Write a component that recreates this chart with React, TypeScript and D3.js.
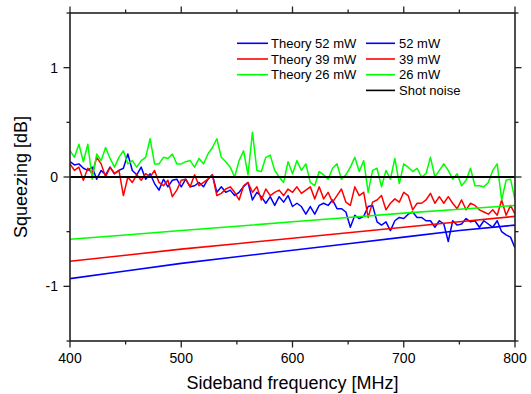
import React from "react";
import * as d3 from "d3";

// sideband frequency grid of the measured traces [MHz]
const freq = d3.range(400, 801, 4);

// measured squeezing [dB], one value per freq point
const meas52 = [
  0.14, 0.11, 0.12, 0.08, 0.06, 0.09, -0.02, 0.06, 0.02, 0.09, 0.03, 0.06, 0.08, 0.21, 0.06, 0.02, 0.09, -0.02, 0.03, -0.06, -0.12, -0.02, -0.09, -0.03, -0.02, -0.09,
  -0.02, -0.09, -0.08, -0.05, -0.09, -0.02, 0.02, -0.14, -0.09, -0.14, -0.12, -0.17, -0.14, -0.09, -0.05, -0.21, -0.14, -0.18, -0.24, -0.18, -0.26, -0.18, -0.23, -0.17, -0.27,
  -0.24, -0.27, -0.34, -0.27, -0.34, -0.26, -0.24, -0.26, -0.21, -0.29, -0.29, -0.32, -0.46, -0.35, -0.38, -0.36, -0.27, -0.26, -0.41, -0.44, -0.41, -0.49, -0.4, -0.37, -0.38,
  -0.34, -0.32, -0.37, -0.37, -0.4, -0.4, -0.46, -0.4, -0.43, -0.59, -0.4, -0.44, -0.43, -0.38, -0.41, -0.4, -0.46, -0.4, -0.43, -0.46, -0.4, -0.5, -0.53, -0.55, -0.65,
];
const meas39 = [
  0.12, 0.06, 0.09, -0.03, 0.08, 0.03, 0.18, 0.12, 0.0, 0.09, 0.03, 0.06, -0.17, 0.0, -0.05, 0.02, -0.03, 0.03, 0.0, 0.06, -0.05, -0.08, -0.03, -0.18, -0.12, -0.03,
  -0.02, -0.09, 0.02, -0.08, -0.05, -0.02, 0.02, -0.17, -0.15, -0.11, -0.09, -0.14, -0.21, -0.08, -0.05, -0.14, -0.09, -0.21, -0.11, -0.17, -0.14, -0.12, -0.17, -0.11, -0.14,
  -0.09, -0.15, -0.12, -0.09, -0.2, -0.09, -0.2, -0.14, -0.23, -0.17, -0.11, -0.23, -0.26, -0.09, -0.17, -0.14, -0.37, -0.23, -0.21, -0.17, -0.3, -0.24, -0.2, -0.23, -0.14,
  -0.17, -0.3, -0.24, -0.24, -0.21, -0.15, -0.24, -0.18, -0.24, -0.18, -0.24, -0.29, -0.21, -0.3, -0.24, -0.26, -0.3, -0.32, -0.34, -0.3, -0.35, -0.21, -0.35, -0.26, -0.34,
];
const meas26 = [
  0.24, 0.18, 0.3, 0.14, 0.3, -0.02, 0.21, 0.15, 0.27, 0.17, 0.09, 0.18, 0.24, 0.12, 0.15, 0.09, 0.15, 0.18, 0.35, 0.12, 0.12, 0.18, 0.17, 0.21, 0.12, 0.12,
  0.14, 0.15, 0.09, 0.17, 0.12, 0.21, 0.27, 0.35, 0.18, 0.14, 0.09, 0.0, 0.15, 0.24, 0.02, 0.41, 0.06, 0.05, 0.18, 0.2, 0.06, 0.0, -0.05, 0.14, 0.03,
  0.15, 0.06, 0.12, -0.05, -0.08, 0.05, 0.02, -0.02, 0.08, 0.12, -0.02, 0.02, 0.09, 0.18, 0.05, 0.15, -0.14, 0.06, 0.08, -0.09, 0.06, -0.02, 0.17, -0.06, 0.12,
  0.09, 0.05, 0.08, 0.0, 0.03, 0.18, 0.0, 0.06, 0.12, 0.06, -0.02, 0.03, -0.08, -0.03, 0.08, -0.08, -0.08, -0.09, -0.05, 0.06, 0.12, -0.21, -0.03, -0.02, -0.21,
];

// theory curves, sampled every 50 MHz
const theoryFreq = [400, 450, 500, 550, 600, 650, 700, 750, 800];
const theory52 = [-0.93, -0.86, -0.79, -0.73, -0.67, -0.61, -0.55, -0.49, -0.44];
const theory39 = [-0.77, -0.715, -0.66, -0.61, -0.56, -0.51, -0.46, -0.41, -0.36];
const theory26 = [-0.57, -0.53, -0.49, -0.45, -0.41, -0.37, -0.33, -0.295, -0.26];

const xTicks = [400, 500, 600, 700, 800];
const yTicks = [-1, 0, 1];

const W = 531;
const H = 394;
const plot = { left: 70, right: 515, top: 13, bottom: 341 };
const font = "'Liberation Sans', Arial, sans-serif";
const axisColor = "#222";

const x = d3.scaleLinear().domain([400, 800]).range([plot.left, plot.right]);
const y = d3.scaleLinear().domain([-1.5, 1.5]).range([plot.bottom, plot.top]);

const line = d3
  .line<[number, number]>()
  .x((d) => x(d[0]))
  .y((d) => y(d[1]));

const zip = (xs: number[], ys: number[]) => xs.map((v, i) => [v, ys[i]] as [number, number]);

const measured = [
  { name: "52 mW", color: "#0000ff", values: meas52 },
  { name: "39 mW", color: "#ff0000", values: meas39 },
  { name: "26 mW", color: "#00ff00", values: meas26 },
];
const theory = [
  { name: "Theory 52 mW", color: "#0000ff", values: theory52 },
  { name: "Theory 39 mW", color: "#ff0000", values: theory39 },
  { name: "Theory 26 mW", color: "#00ff00", values: theory26 },
];

const App = () => {
  const xMinor = d3.range(450, 800, 100);
  const yMinor = [-0.5, 0.5];
  const major = 6.5;
  const minor = 3.5;

  return (
    <svg width={W} height={H} style={{ position: "absolute", left: 0, top: 0, background: "#fff" }}>
      <defs>
        <clipPath id="plotClip">
          <rect x={plot.left} y={plot.top} width={plot.right - plot.left} height={plot.bottom - plot.top} />
        </clipPath>
      </defs>

      <g clipPath="url(#plotClip)" fill="none" strokeLinejoin="round">
        {measured.map((s) => (
          <path key={s.name} d={line(zip(freq, s.values)) || ""} stroke={s.color} strokeWidth={1.5} />
        ))}
        {theory.map((s) => (
          <path key={s.name} d={line(zip(theoryFreq, s.values)) || ""} stroke={s.color} strokeWidth={1.6} />
        ))}
        <line x1={x(400)} x2={x(800)} y1={y(0)} y2={y(0)} stroke="#000" strokeWidth={1.8} />
      </g>

      {/* frame */}
      <rect
        x={plot.left}
        y={plot.top}
        width={plot.right - plot.left}
        height={plot.bottom - plot.top}
        fill="none"
        stroke={axisColor}
        strokeWidth={1.6}
      />

      {/* x ticks, outward on bottom and top */}
      {xTicks.map((t) => (
        <g key={"x" + t}>
          <line x1={x(t)} x2={x(t)} y1={plot.bottom} y2={plot.bottom + major} stroke={axisColor} strokeWidth={1.3} />
          <line x1={x(t)} x2={x(t)} y1={plot.top} y2={plot.top - major} stroke={axisColor} strokeWidth={1.3} />
          <text x={x(t)} y={363} textAnchor="middle" fontFamily={font} fontSize={14} fill="#000">
            {t}
          </text>
        </g>
      ))}
      {xMinor.map((t) => (
        <g key={"xm" + t}>
          <line x1={x(t)} x2={x(t)} y1={plot.bottom} y2={plot.bottom + minor} stroke={axisColor} strokeWidth={1.3} />
          <line x1={x(t)} x2={x(t)} y1={plot.top} y2={plot.top - minor} stroke={axisColor} strokeWidth={1.3} />
        </g>
      ))}

      {/* y ticks, outward on left and right */}
      {yTicks.map((t) => (
        <g key={"y" + t}>
          <line x1={plot.left} x2={plot.left - major} y1={y(t)} y2={y(t)} stroke={axisColor} strokeWidth={1.3} />
          <line x1={plot.right} x2={plot.right + major} y1={y(t)} y2={y(t)} stroke={axisColor} strokeWidth={1.3} />
          <text x={58} y={y(t) + 5} textAnchor="end" fontFamily={font} fontSize={14} fill="#000">
            {t}
          </text>
        </g>
      ))}
      {[...yMinor, -1.5, 1.5].map((t) => (
        <g key={"ym" + t}>
          <line x1={plot.left} x2={plot.left - minor} y1={y(t)} y2={y(t)} stroke={axisColor} strokeWidth={1.3} />
          <line x1={plot.right} x2={plot.right + minor} y1={y(t)} y2={y(t)} stroke={axisColor} strokeWidth={1.3} />
        </g>
      ))}

      {/* axis titles */}
      <text x={(plot.left + plot.right) / 2} y={389} textAnchor="middle" fontFamily={font} fontSize={18} fill="#000">
        Sideband frequency [MHz]
      </text>
      <text
        transform={`translate(27,${(plot.top + plot.bottom) / 2}) rotate(-90)`}
        textAnchor="middle"
        fontFamily={font}
        fontSize={18}
        fill="#000"
      >
        Squeezing [dB]
      </text>

      {/* legend */}
      <g fontFamily={font} fontSize={13} fill="#000">
        {theory.map((s, i) => (
          <g key={s.name} transform={`translate(237,${43.3 + i * 15.7})`}>
            <line x1={0} x2={31} y1={0} y2={0} stroke={s.color} strokeWidth={1.6} />
            <text x={34} y={4.5}>
              {s.name}
            </text>
          </g>
        ))}
        {[...measured, { name: "Shot noise", color: "#000", values: [] }].map((s, i) => (
          <g key={s.name} transform={`translate(366,${43.3 + i * 15.7})`}>
            <line x1={0} x2={29} y1={0} y2={0} stroke={s.color} strokeWidth={1.6} />
            <text x={33} y={4.5}>
              {s.name}
            </text>
          </g>
        ))}
      </g>
    </svg>
  );
};

export default App;
